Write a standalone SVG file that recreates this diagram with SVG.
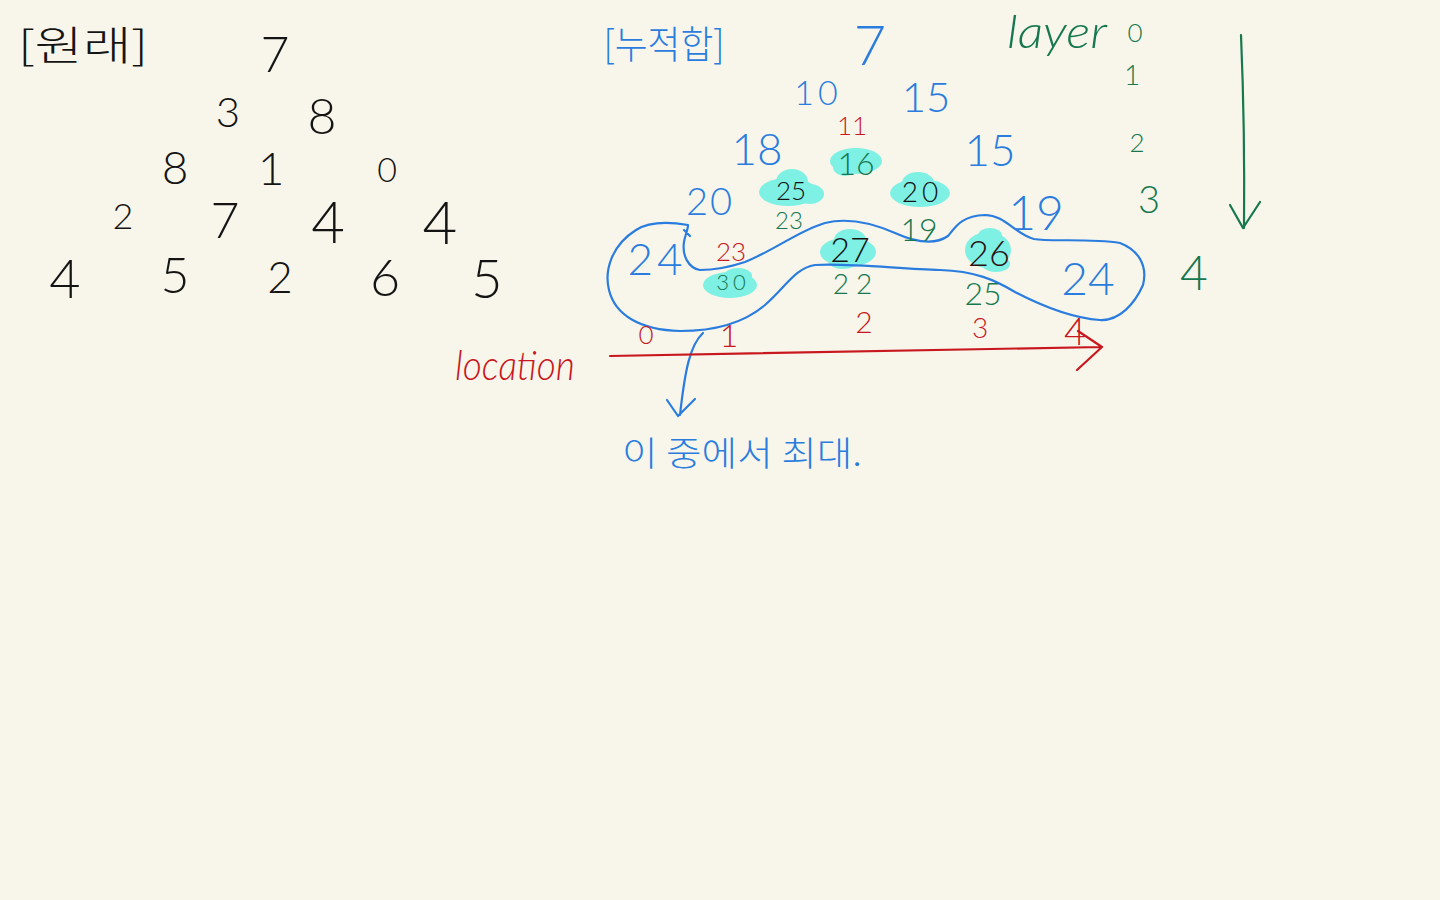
<svg xmlns="http://www.w3.org/2000/svg" width="1440" height="900" viewBox="0 0 1440 900">
<style>
text{font-family:"Lato","Liberation Sans","Noto Sans CJK KR",sans-serif;font-weight:300;text-anchor:middle}
.kr{font-family:"Noto Sans CJK KR","Noto Sans CJK SC",sans-serif;font-weight:300}
.k{fill:#141414}
.b{fill:#2a7ddf}
.g{fill:#17784f}
.r{fill:#c8171e}
.d{fill:#2a1212}
.hl{fill:#7ef0e4}
.ln{fill:none;stroke-width:2.2;stroke-linecap:round;stroke-linejoin:round}
</style>
<rect width="1440" height="900" fill="#f8f6ea"/>

<g id="original">
<text x="83" y="60" font-size="40" textLength="130" lengthAdjust="spacingAndGlyphs" class="k kr">[원래]</text>
<text x="275" y="72" font-size="50" class="k">7</text>
<text x="228" y="127" font-size="42" class="k">3</text>
<text x="322" y="134" font-size="50" class="k">8</text>
<text x="175" y="184" font-size="46" class="k">8</text>
<text x="271" y="185" font-size="46" class="k">1</text>
<text x="387" y="182" font-size="34" class="k">0</text>
<text x="123" y="229" font-size="36" class="k">2</text>
<text x="225" y="238" font-size="50" class="k">7</text>
<text x="328" y="243" font-size="58" class="k">4</text>
<text x="440" y="244" font-size="60" class="k">4</text>
<text x="65" y="298" font-size="54" class="k">4</text>
<text x="175" y="293" font-size="50" class="k">5</text>
<text x="280" y="293" font-size="44" class="k">2</text>
<text x="385" y="296" font-size="52" class="k">6</text>
<text x="487" y="298" font-size="54" class="k">5</text>
</g>

<g id="highlights" class="hl">
<ellipse cx="856" cy="161" rx="26" ry="13"/><ellipse cx="845" cy="167" rx="12" ry="9"/>
<ellipse cx="788" cy="192" rx="29" ry="14"/><ellipse cx="792" cy="182" rx="16" ry="13"/><ellipse cx="810" cy="194" rx="14" ry="10"/>
<ellipse cx="920" cy="193" rx="30" ry="14"/><ellipse cx="918" cy="183" rx="16" ry="11"/>
<ellipse cx="848" cy="252" rx="28" ry="15"/><ellipse cx="850" cy="240" rx="16" ry="11"/><ellipse cx="843" cy="262" rx="14" ry="7"/>
<ellipse cx="988" cy="250" rx="23" ry="18"/><ellipse cx="990" cy="236" rx="12" ry="8"/><ellipse cx="996" cy="264" rx="14" ry="8"/>
<ellipse cx="730" cy="285" rx="27" ry="13"/><ellipse cx="738" cy="276" rx="14" ry="8"/>
</g>

<g id="connectors">
<path class="ln" stroke="#2a7ddf" d="M688 225 C670 222 650 221 636 230 C612 245 604 270 609 290 C615 315 640 330 680 331 C715 331 745 322 765 305 C785 288 795 268 815 265 C850 263 900 269 940 270 C975 271 995 280 1015 292 C1040 305 1070 318 1100 320 C1120 321 1135 303 1143 285 C1148 265 1138 250 1120 243 C1090 238 1050 242 1034 239 C1015 234 1005 215 985 215 C960 216 955 228 948 236 C935 245 915 242 895 233 C870 222 845 218 825 223 C800 230 775 250 745 262 C730 267 715 270 700 270 C688 268 682 255 684 242 C685 235 688 230 688 225 M684 230 L690 236"/>
<path class="ln" stroke="#2a7ddf" d="M703 333 C690 345 685 370 680 415 M667 400 L678 416 L695 399"/>
<path class="ln" stroke="#c8171e" d="M610 356 Q850 352 1101 347 M1078 331 L1102 347 L1077 370"/>
<path class="ln" stroke="#17784f" d="M1241 35 Q1245 130 1244 228 M1230 205 L1243 228 L1260 202"/>
</g>

<g id="prefix-sum">
<text x="664" y="58" font-size="38" textLength="121" lengthAdjust="spacingAndGlyphs" class="b kr">[누적합]</text>
<text x="870" y="65" font-size="56" class="b">7</text>
<text x="818" y="105" font-size="34" letter-spacing="4" class="b">10</text>
<text x="926" y="112" font-size="42" class="b">15</text>
<text x="852" y="135" font-size="26" class="r">11</text>
<text x="757" y="165" font-size="44" class="b">18</text>
<text x="856" y="175" font-size="32" class="g">16</text>
<text x="990" y="166" font-size="44" class="b">15</text>
<text x="791" y="200" font-size="26" class="k">25</text>
<text x="922" y="202" font-size="28" letter-spacing="4" class="k">20</text>
<text x="710" y="215" font-size="38" letter-spacing="2" class="b">20</text>
<text x="1036" y="230" font-size="48" class="b">19</text>
<text x="789" y="229" font-size="24" class="g">23</text>
<text x="919" y="241" font-size="32" class="g">19</text>
<text x="657" y="275" font-size="44" letter-spacing="4" class="b">24</text>
<text x="731" y="261" font-size="26" class="r">23</text>
<text x="850" y="262" font-size="34" class="k">27</text>
<text x="989" y="266" font-size="36" class="d">26</text>
<text x="1088" y="295" font-size="46" class="b">24</text>
<text x="733" y="290" font-size="22" letter-spacing="4" class="g">30</text>
<text x="856" y="294" font-size="28" letter-spacing="7" class="g">22</text>
<text x="983" y="305" font-size="32" class="g">25</text>
</g>

<g id="location">
<text x="515" y="380" font-size="42" font-style="italic" textLength="120" lengthAdjust="spacingAndGlyphs" class="r">location</text>
<text x="646" y="344" font-size="26" class="r">0</text>
<text x="729" y="347" font-size="32" class="r">1</text>
<text x="864" y="333" font-size="30" class="r">2</text>
<text x="980" y="338" font-size="28" class="r">3</text>
<text x="1075" y="345" font-size="38" class="r">4</text>
</g>

<g id="layer">
<text x="1057" y="48" font-size="46" font-style="italic" textLength="100" lengthAdjust="spacingAndGlyphs" class="g">layer</text>
<text x="1135" y="42" font-size="26" class="g">0</text>
<text x="1132" y="85" font-size="28" class="g">1</text>
<text x="1137" y="152" font-size="26" class="g">2</text>
<text x="1149" y="213" font-size="38" class="g">3</text>
<text x="1194" y="290" font-size="48" class="g">4</text>
</g>

<g id="note">
<text x="742" y="466" font-size="34" textLength="240" lengthAdjust="spacingAndGlyphs" class="b kr">이 중에서 최대.</text>
</g>
</svg>
